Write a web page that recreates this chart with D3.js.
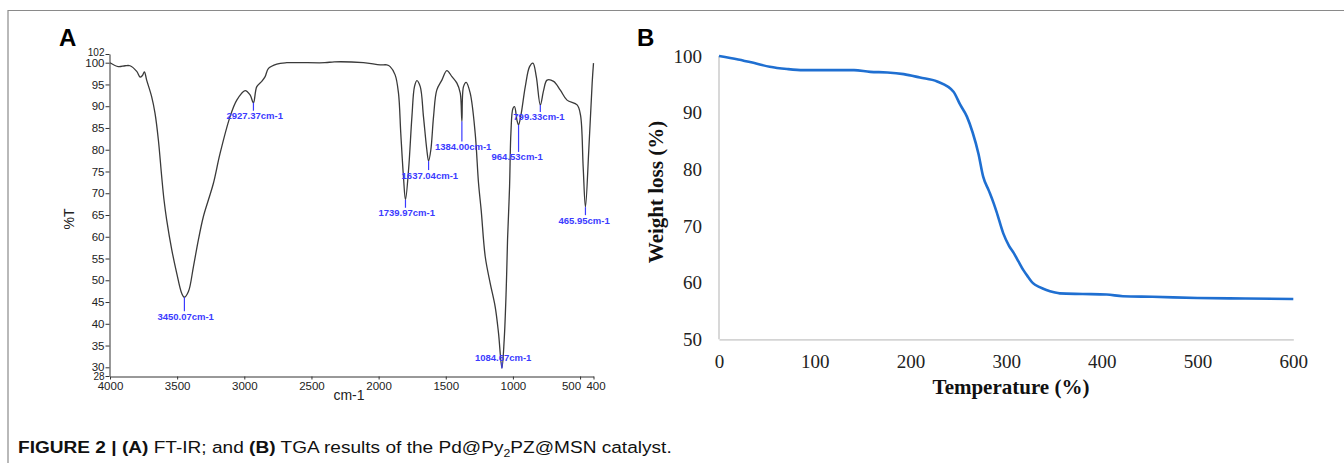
<!DOCTYPE html>
<html>
<head>
<meta charset="utf-8">
<script src="https://cdn.jsdelivr.net/npm/d3@7"></script>
<style>
  body { margin: 0; background: #fff; }
  svg { display: block; }
</style>
</head>
<body>
<div id="chart"></div>
<script>
// FT-IR spectrum (panel A)
const irWavenumber = [4000, 3938, 3888, 3851, 3801, 3776, 3760, 3744, 3727, 3690, 3665, 3640, 3615, 3598, 3578, 3540, 3503, 3466, 3446, 3416, 3379, 3342, 3305, 3267, 3230, 3180, 3106, 3056, 2994, 2957, 2932, 2907, 2870, 2845, 2820, 2758, 2684, 2400, 2330, 2113, 1988, 1939, 1914, 1877, 1852, 1835, 1815, 1800, 1777, 1752, 1733, 1715, 1690, 1666, 1641, 1628, 1611, 1591, 1567, 1529, 1492, 1454, 1417, 1392, 1380, 1368, 1348, 1318, 1281, 1256, 1236, 1206, 1169, 1132, 1107, 1082, 1065, 1050, 1040, 1025, 1015, 1000, 988, 970, 958, 940, 908, 876, 851, 826, 796, 771, 746, 697, 647, 597, 522, 497, 477, 460, 435, 410, 400];
const irTransmittance = [100.0, 99.1, 99.3, 99.3, 98.0, 96.7, 97.0, 97.9, 96.0, 92.2, 88.4, 82.3, 73.8, 68.5, 63.9, 57.0, 51.6, 47.0, 46.1, 47.4, 53.1, 59.3, 64.6, 68.5, 72.3, 79.2, 87.6, 91.4, 93.6, 92.6, 90.8, 94.5, 95.7, 96.8, 98.7, 99.7, 100.0, 100.0, 100.2, 100.0, 99.5, 99.5, 99.1, 97.2, 93.0, 83.8, 73.8, 68.5, 75.4, 87.6, 94.5, 95.9, 94.5, 87.6, 80.0, 77.4, 80.0, 87.6, 93.7, 96.0, 98.2, 96.8, 95.3, 93.0, 86.5, 94.5, 95.5, 93.0, 83.8, 72.3, 66.0, 55.4, 49.3, 43.9, 37.8, 29.8, 36.3, 47.8, 59.3, 71.5, 83.8, 89.5, 89.9, 86.8, 85.7, 88.0, 94.5, 99.1, 99.9, 96.8, 90.3, 93.7, 96.0, 95.7, 93.7, 91.4, 90.3, 88.0, 76.1, 66.8, 80.0, 95.3, 99.9];

// labelled peaks (position on the trace + printed label)
const peakWavenumber = [3446, 2932, 1800, 1628, 1380, 1082, 958, 796, 460];
const peakTransmittance = [46.1, 90.8, 68.5, 77.4, 86.5, 29.8, 85.7, 90.3, 66.8];
const peakLabels = ['3450.07cm-1', '2927.37cm-1', '1739.97cm-1', '1637.04cm-1', '1384.00cm-1', '1084.67cm-1', '964.53cm-1', '799.33cm-1', '465.95cm-1'];

const irYTicks = [28, 30, 35, 40, 45, 50, 55, 60, 65, 70, 75, 80, 85, 90, 95, 100, 102];
const irXTicks = [4000, 3500, 3000, 2500, 2000, 1500, 1000, 500, 400];

// TGA curve (panel B)
const tgaTemperature = [0, 20, 36, 53, 71, 88, 110, 141, 158, 176, 193, 210, 228, 245, 252, 259, 265, 271, 276, 282, 287, 290, 297, 303, 308, 313, 318, 323, 328, 335, 342, 350, 356, 380, 405, 422, 453, 500, 550, 600];
const tgaWeight = [100, 99.4, 98.8, 98.1, 97.7, 97.5, 97.5, 97.5, 97.2, 97.1, 96.8, 96.2, 95.5, 93.7, 91.4, 89.3, 86.5, 82.8, 78.7, 76.2, 74.0, 72.5, 68.7, 66.5, 65.2, 63.7, 62.2, 61.0, 59.9, 59.2, 58.7, 58.3, 58.1, 58.0, 57.9, 57.6, 57.5, 57.3, 57.2, 57.1];
const tgaXTicks = [0, 100, 200, 300, 400, 500, 600];
const tgaYTicks = [50, 60, 70, 80, 90, 100];

const width = 1344, height = 463;

const svg = d3.select('#chart').append('svg')
  .attr('width', width)
  .attr('height', height);

// figure frame (top + left rule)
svg.append('line').attr('x1', 8).attr('x2', width).attr('y1', 10.5).attr('y2', 10.5)
  .attr('stroke', '#8a8a8a').attr('stroke-width', 1.2);
svg.append('line').attr('x1', 8).attr('x2', 8).attr('y1', 10).attr('y2', height)
  .attr('stroke', '#8a8a8a').attr('stroke-width', 1.2);

// ---------- Panel A : FT-IR ----------
const xA = d3.scaleLinear().domain([4000, 400]).range([110, 593.5]);
const yA = d3.scaleLinear().domain([28, 102]).range([376, 54]);

const gA = svg.append('g');

const yAxisA = gA.append('g')
  .attr('transform', 'translate(109.5,0)')
  .call(d3.axisLeft(yA).tickValues(irYTicks).tickSize(4).tickSizeOuter(0).tickPadding(1));

const xAxisA = gA.append('g')
  .attr('transform', 'translate(0,376.5)')
  .call(d3.axisBottom(xA).tickValues(irXTicks).tickFormat(d3.format('d'))
    .tickSize(3).tickSizeOuter(0).tickPadding(2.5));

[yAxisA, xAxisA].forEach(ax => {
  ax.select('.domain').attr('stroke', '#333');
  ax.selectAll('.tick line').attr('stroke', '#333');
  ax.selectAll('text')
    .attr('fill', '#222')
    .style('font-family', 'Liberation Sans, Arial, sans-serif')
    .style('font-size', '11.5px');
});
// the end labels (28, 102) are squeezed against their neighbours
yAxisA.selectAll('.tick text').filter(d => d === 28 || d === 102).style('font-size', '10px');
yAxisA.selectAll('.tick text').filter(d => d === 28).attr('dy', '0.38em');
yAxisA.selectAll('.tick text').filter(d => d === 102).attr('dy', '0.1em');
// the 500 label sits just left of the crowded 400 label
xAxisA.selectAll('.tick text').filter(d => d === 500).attr('dx', -9);
xAxisA.selectAll('.tick text').filter(d => d === 400).attr('dx', 2);

const irPoints = irWavenumber.map((w, i) => [w, irTransmittance[i]]);
gA.append('path')
  .datum(irPoints)
  .attr('fill', 'none')
  .attr('stroke', '#3a3a3a')
  .attr('stroke-width', 1.3)
  .attr('stroke-linejoin', 'round')
  .attr('d', d3.line().x(d => xA(d[0])).y(d => yA(d[1])).curve(d3.curveCatmullRom.alpha(0.5)));

// peak markers
const tickLen = [14, 8, 8, 9, 20, -6, 27, 7, 8];
peakWavenumber.forEach((w, i) => {
  const px = xA(w), py = yA(peakTransmittance[i]);
  const len = tickLen[i];
  gA.append('line')
    .attr('x1', px).attr('x2', px)
    .attr('y1', py).attr('y2', py + len)
    .attr('stroke', '#3b3bff').attr('stroke-width', 1.2);
  gA.append('text')
    .attr('x', px - 27)
    .attr('y', len > 0 ? py + len + 8.5 : py + len - 1)
    .attr('fill', '#3b3bff')
    .style('font-family', 'Liberation Sans, Arial, sans-serif')
    .style('font-size', '9.5px')
    .style('font-weight', 'bold')
    .text(peakLabels[i]);
});

gA.append('text')
  .attr('transform', 'translate(74,219) rotate(-90)')
  .attr('text-anchor', 'middle')
  .attr('fill', '#222')
  .style('font-family', 'Liberation Sans, Arial, sans-serif')
  .style('font-size', '14px')
  .text('%T');

gA.append('text')
  .attr('x', 349).attr('y', 400)
  .attr('text-anchor', 'middle')
  .attr('fill', '#222')
  .style('font-family', 'Liberation Sans, Arial, sans-serif')
  .style('font-size', '14px')
  .text('cm-1');

svg.append('text')
  .attr('x', 59).attr('y', 46)
  .style('font-family', 'Liberation Sans, Arial, sans-serif')
  .style('font-size', '24px')
  .style('font-weight', 'bold')
  .text('A');

// ---------- Panel B : TGA ----------
const xB = d3.scaleLinear().domain([0, 600]).range([719, 1293.3]);
const yB = d3.scaleLinear().domain([50, 100]).range([339.3, 56]);

const gB = svg.append('g');

const xAxisB = gB.append('g')
  .attr('transform', 'translate(0,339.3)')
  .call(d3.axisBottom(xB).tickValues(tgaXTicks).tickSize(0).tickPadding(15).tickFormat(d3.format('d')));
const yAxisB = gB.append('g')
  .attr('transform', 'translate(719,0)')
  .call(d3.axisLeft(yB).tickValues(tgaYTicks).tickSize(0).tickPadding(17).tickFormat(d3.format('d')));

[xAxisB, yAxisB].forEach(ax => {
  ax.select('.domain').attr('stroke', '#d4d4d4').attr('stroke-width', 1.8);
  ax.selectAll('text')
    .attr('fill', '#222')
    .style('font-family', 'Liberation Serif, Times New Roman, serif')
    .style('font-size', '19px');
});
yAxisB.select('.domain').attr('d', `M0,${yB(50)}V${yB(100)}`);

const tgaPoints = tgaTemperature.map((t, i) => [t, tgaWeight[i]]);
gB.append('path')
  .datum(tgaPoints)
  .attr('fill', 'none')
  .attr('stroke', '#1f6fd1')
  .attr('stroke-width', 2.6)
  .attr('d', d3.line().x(d => xB(d[0])).y(d => yB(d[1])).curve(d3.curveMonotoneX));

gB.append('text')
  .attr('x', 1011).attr('y', 394)
  .attr('text-anchor', 'middle')
  .attr('fill', '#111')
  .style('font-family', 'Liberation Serif, Times New Roman, serif')
  .style('font-size', '21px')
  .style('font-weight', 'bold')
  .text('Temperature (%)');

gB.append('text')
  .attr('transform', 'translate(663,192) rotate(-90)')
  .attr('text-anchor', 'middle')
  .attr('fill', '#111')
  .style('font-family', 'Liberation Serif, Times New Roman, serif')
  .style('font-size', '21px')
  .style('font-weight', 'bold')
  .text('Weight loss (%)');

svg.append('text')
  .attr('x', 637).attr('y', 46)
  .style('font-family', 'Liberation Sans, Arial, sans-serif')
  .style('font-size', '24px')
  .style('font-weight', 'bold')
  .text('B');

// ---------- caption ----------
const capG = svg.append('g').attr('transform', 'translate(18,453)');
const cap = capG.append('text')
  .attr('fill', '#111')
  .style('font-family', 'Liberation Sans, Arial, sans-serif')
  .style('font-size', '17px');
const parts = [
  ['FIGURE 2 | ', true], ['(A)', true], [' FT-IR; and ', false], ['(B)', true],
  [' TGA results of the Pd@Py', false]
];
parts.forEach(p => cap.append('tspan').style('font-weight', p[1] ? 'bold' : 'normal').text(p[0]));
cap.append('tspan').attr('dy', 4).style('font-size', '11px').text('2');
cap.append('tspan').attr('dy', -4).text('PZ@MSN catalyst.');
const capLen = cap.node().getComputedTextLength();
capG.attr('transform', `translate(18,453) scale(${654 / capLen},1)`);
</script>
</body>
</html>
